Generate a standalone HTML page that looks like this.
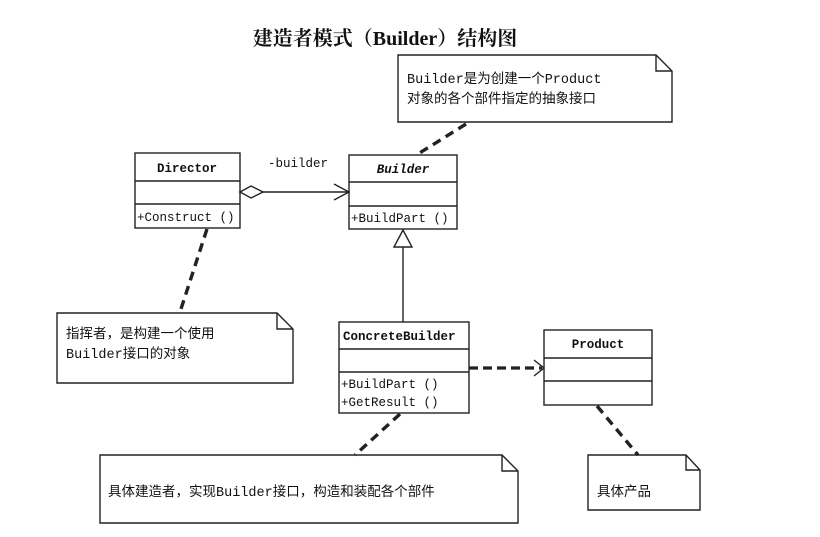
<!DOCTYPE html>
<html><head><meta charset="utf-8"><style>
html,body{margin:0;padding:0;background:#fff;}
svg text{font-family:"Liberation Mono","Noto Sans CJK SC",monospace;fill:#111;}
</style></head><body>
<svg width="820" height="532" viewBox="0 0 820 532" xmlns="http://www.w3.org/2000/svg">
<rect width="820" height="532" fill="#fff"/>
<text x="385" y="45" text-anchor="middle" style="font-family:'Liberation Serif','Noto Serif CJK SC',serif;font-size:20px;font-weight:bold">建造者模式（Builder）结构图</text>
<g fill="none" stroke="#222" stroke-width="1.4">
<rect x="135" y="153" width="105" height="75" fill="#fff"/>
<line x1="135" y1="181" x2="240" y2="181"/><line x1="135" y1="204" x2="240" y2="204"/>
<rect x="349" y="155" width="108" height="74" fill="#fff"/>
<line x1="349" y1="182" x2="457" y2="182"/><line x1="349" y1="206" x2="457" y2="206"/>
<rect x="339" y="322" width="130" height="91" fill="#fff"/>
<line x1="339" y1="349" x2="469" y2="349"/><line x1="339" y1="372" x2="469" y2="372"/>
<rect x="544" y="330" width="108" height="75" fill="#fff"/>
<line x1="544" y1="358" x2="652" y2="358"/><line x1="544" y1="381" x2="652" y2="381"/>
<polygon points="240,192 251,186 263,192 251,198"/>
<line x1="263" y1="192" x2="349" y2="192"/>
<polyline points="334,184 349,192 334,200"/>
<line x1="403" y1="247" x2="403" y2="322"/>
<polygon points="403,230 394,247 412,247" fill="#fff"/>
<line x1="469" y1="368" x2="542" y2="368" stroke-width="3.2" stroke-dasharray="9,5"/>
<polyline points="534,360 544,368 534,376"/>
<path d="M398,55 H656 L672,71 V122 H398 Z" fill="#fff"/><polyline points="656,55 656,71 672,71"/>
<path d="M57,313 H277 L293,329 V383 H57 Z" fill="#fff"/><polyline points="277,313 277,329 293,329"/>
<path d="M100,455 H502 L518,471 V523 H100 Z" fill="#fff"/><polyline points="502,455 502,471 518,471"/>
<path d="M588,455 H686 L700,470 V510 H588 Z" fill="#fff"/><polyline points="686,455 686,470 700,470"/>
<g stroke-width="3.4" stroke-dasharray="9,6">
<line x1="466" y1="124" x2="418" y2="154"/>
<line x1="207" y1="229" x2="180" y2="312"/>
<line x1="400" y1="414" x2="355" y2="455"/>
<line x1="597" y1="406" x2="638" y2="455"/>
</g>
</g>
<g font-size="12.5">
<text x="187" y="172" text-anchor="middle" font-weight="bold">Director</text>
<text x="137" y="221">+Construct ()</text>
<text x="403" y="173" text-anchor="middle" font-weight="bold" font-style="italic">Builder</text>
<text x="351" y="222">+BuildPart ()</text>
<text x="268" y="167">-builder</text>
<text x="343" y="340" font-weight="bold">ConcreteBuilder</text>
<text x="341" y="388">+BuildPart ()</text>
<text x="341" y="406">+GetResult ()</text>
<text x="598" y="348" text-anchor="middle" font-weight="bold">Product</text>
</g>
<g font-size="13.5">
<text x="407" y="83">Builder是为创建一个Product</text>
<text x="407" y="103">对象的各个部件指定的抽象接口</text>
<text x="66" y="338">指挥者，是构建一个使用</text>
<text x="66" y="358">Builder接口的对象</text>
<text x="108" y="496">具体建造者，实现Builder接口，构造和装配各个部件</text>
<text x="597" y="496">具体产品</text>
</g>
</svg>
</body></html>
